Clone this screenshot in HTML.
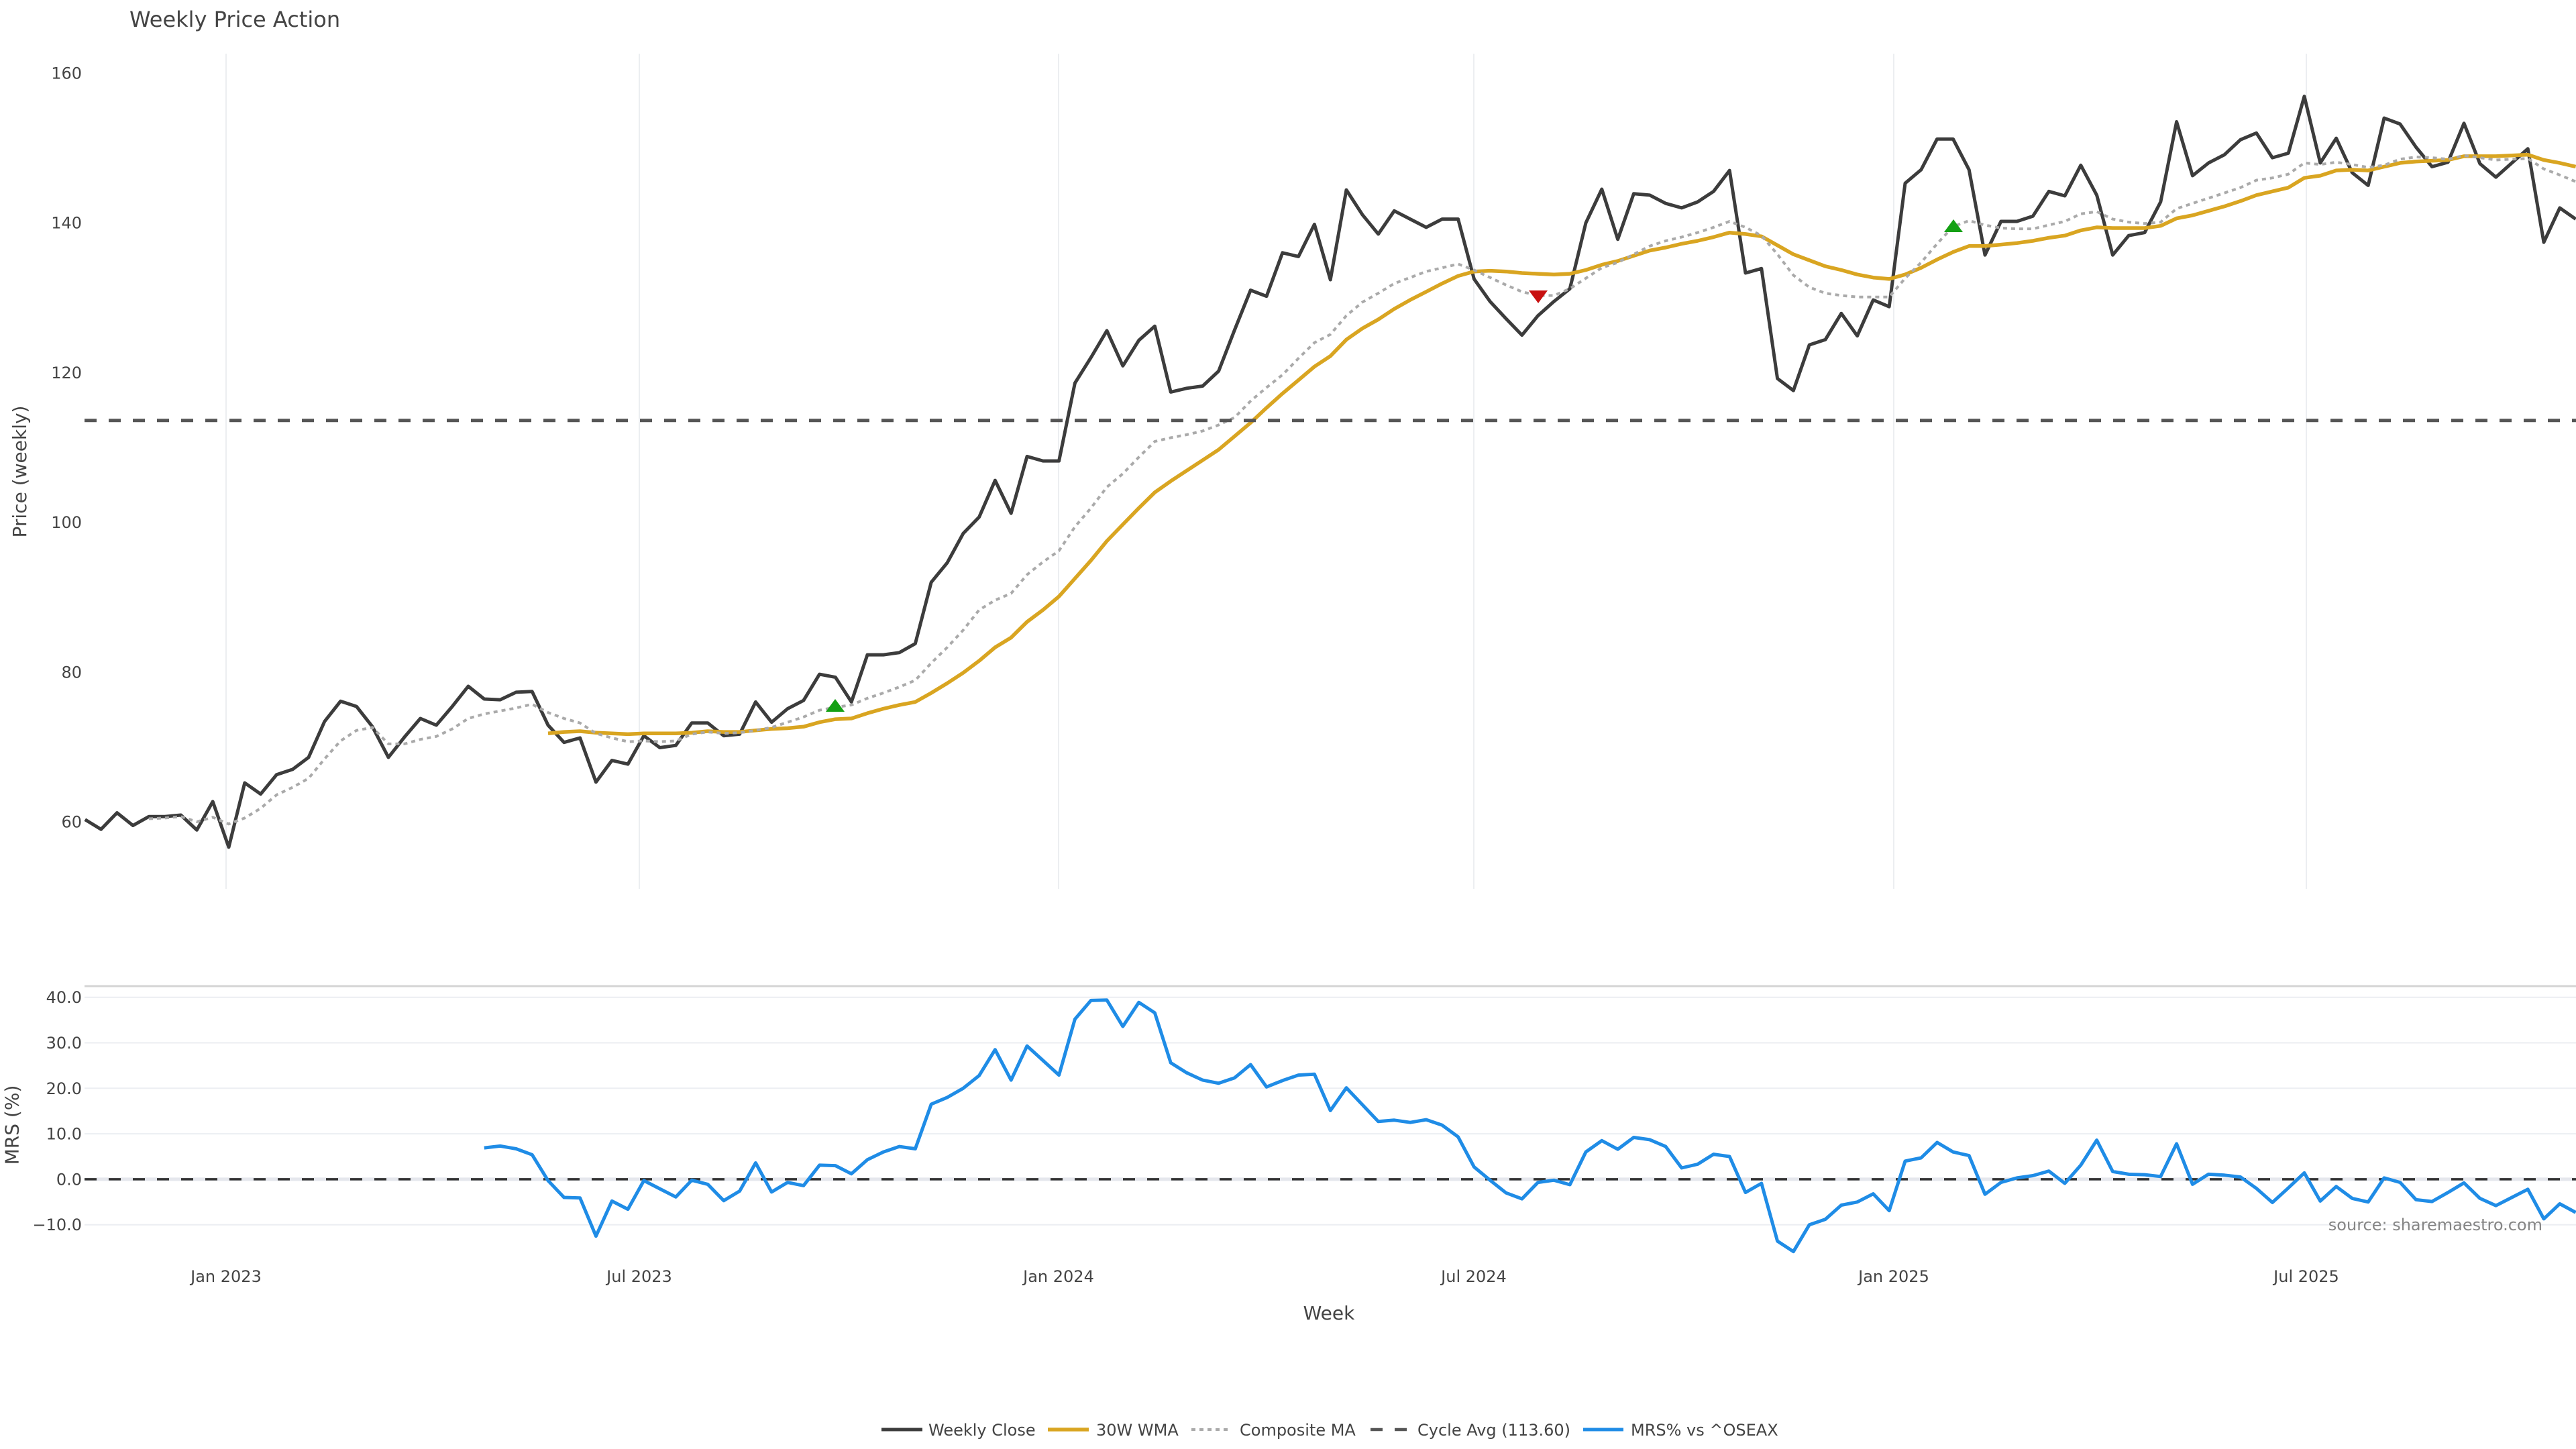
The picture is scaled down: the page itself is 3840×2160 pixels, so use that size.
<!DOCTYPE html>
<html>
<head>
<meta charset="utf-8">
<style>
html,body{margin:0;padding:0;background:#fff;}
svg{display:block;}
text{font-family:"DejaVu Sans","Liberation Sans",sans-serif;fill:#444;}
</style>
</head>
<body>
<svg id="chart" width="3840" height="2160" viewBox="0 0 3840 2160" xmlns="http://www.w3.org/2000/svg">
  <rect x="0" y="0" width="3840" height="2160" fill="#ffffff"/>

  <!-- Title -->
  <text x="193" y="40" font-size="32">Weekly Price Action</text>

  <!-- Price panel vertical gridlines -->
  <g stroke="#eceef1" stroke-width="2">
    <line x1="337" y1="80" x2="337" y2="1325"/>
    <line x1="953" y1="80" x2="953" y2="1325"/>
    <line x1="1578" y1="80" x2="1578" y2="1325"/>
    <line x1="2197" y1="80" x2="2197" y2="1325"/>
    <line x1="2823" y1="80" x2="2823" y2="1325"/>
    <line x1="3438" y1="80" x2="3438" y2="1325"/>
  </g>

  <!-- Price y ticks -->
  <g font-size="24" text-anchor="end">
    <text x="122" y="117.5">160</text>
    <text x="122" y="340.7">140</text>
    <text x="122" y="563.9">120</text>
    <text x="122" y="787.1">100</text>
    <text x="122" y="1010.3">80</text>
    <text x="122" y="1233.5">60</text>
  </g>
  <text transform="translate(39,703) rotate(-90)" font-size="28" text-anchor="middle">Price (weekly)</text>

  <!-- Price series -->
  <path id="pClose" fill="none" stroke="#3c3c3c" stroke-width="5" stroke-linejoin="round"/>
  <path id="pWma" fill="none" stroke="#d9a521" stroke-width="5.5" stroke-linejoin="round"/>
  <path id="pComp" fill="none" stroke="#aaaaaa" stroke-width="4" stroke-dasharray="6,6"/>
  <line x1="126" y1="626.8" x2="3840" y2="626.8" stroke="#555555" stroke-width="5" stroke-dasharray="18,18"/>

  <!-- Markers -->
  <polygon points="1245,1042 1231,1061 1259,1061" fill="#14a014"/>
  <polygon points="2912,327 2898,346 2926,346" fill="#14a014"/>
  <polygon points="2293,452 2279,433 2307,433" fill="#c81010"/>

  <!-- MRS panel -->
  <line x1="126" y1="1470" x2="3840" y2="1470" stroke="#d4d4d4" stroke-width="3"/>
  <g stroke="#eceef2" stroke-width="2">
    <line x1="126" y1="1486.7" x2="3840" y2="1486.7"/>
    <line x1="126" y1="1554.5" x2="3840" y2="1554.5"/>
    <line x1="126" y1="1622.3" x2="3840" y2="1622.3"/>
    <line x1="126" y1="1690.1" x2="3840" y2="1690.1"/>
    <line x1="126" y1="1825.7" x2="3840" y2="1825.7"/>
  </g>
  <line x1="126" y1="1757.9" x2="3840" y2="1757.9" stroke="#e5e7ed" stroke-width="5"/>
  <g font-size="24" text-anchor="end">
    <text x="122" y="1495.2">40.0</text>
    <text x="122" y="1563">30.0</text>
    <text x="122" y="1630.8">20.0</text>
    <text x="122" y="1698.6">10.0</text>
    <text x="122" y="1766.4">0.0</text>
    <text x="122" y="1834.2">−10.0</text>
  </g>
  <text transform="translate(27.5,1677) rotate(-90)" font-size="28" text-anchor="middle">MRS (%)</text>
  <line x1="126" y1="1757.9" x2="3840" y2="1757.9" stroke="#333333" stroke-width="3.5" stroke-dasharray="18,18"/>
  <path id="pMrs" fill="none" stroke="#1f8ce6" stroke-width="5" stroke-linejoin="round"/>

  <text x="3790" y="1834" font-size="24" text-anchor="end" style="fill:#858585">source: sharemaestro.com</text>

  <!-- X ticks -->
  <g font-size="24" text-anchor="middle">
    <text x="337" y="1911">Jan 2023</text>
    <text x="953" y="1911">Jul 2023</text>
    <text x="1578" y="1911">Jan 2024</text>
    <text x="2197" y="1911">Jul 2024</text>
    <text x="2823" y="1911">Jan 2025</text>
    <text x="3438" y="1911">Jul 2025</text>
  </g>
  <text x="1981" y="1967" font-size="28" text-anchor="middle">Week</text>

  <!-- Legend -->
  <line x1="1314" y1="2131" x2="1375" y2="2131" stroke="#3c3c3c" stroke-width="5"/>
  <text x="1384" y="2140" font-size="24">Weekly Close</text>
  <line x1="1562" y1="2131" x2="1623" y2="2131" stroke="#d9a521" stroke-width="5.5"/>
  <text x="1634" y="2140" font-size="24">30W WMA</text>
  <line x1="1776" y1="2131" x2="1834" y2="2131" stroke="#aaaaaa" stroke-width="4" stroke-dasharray="6,6"/>
  <text x="1848" y="2140" font-size="24">Composite MA</text>
  <line x1="2043" y1="2131" x2="2098" y2="2131" stroke="#555555" stroke-width="4.5" stroke-dasharray="18,18"/>
  <text x="2113" y="2140" font-size="24">Cycle Avg (113.60)</text>
  <line x1="2360" y1="2131" x2="2420" y2="2131" stroke="#1f8ce6" stroke-width="5"/>
  <text x="2431" y="2140" font-size="24">MRS% vs ^OSEAX</text>
</svg>
<script>
(function(){
var close=[60.3,59.0,61.2,59.5,60.7,60.7,60.9,58.9,62.7,56.6,
65.2,63.7,66.3,67.0,68.6,73.4,76.1,75.4,72.7,68.6,
71.3,73.8,72.9,75.4,78.1,76.4,76.3,77.3,77.4,72.9,
70.6,71.2,65.3,68.2,67.7,71.5,69.9,70.2,73.2,73.2,
71.5,71.7,76.0,73.3,75.1,76.2,79.7,79.3,76.0,82.3,
82.3,82.6,83.8,92.0,94.6,98.5,100.7,105.6,101.2,108.8,
108.2,108.2,118.6,122.0,125.6,120.9,124.3,126.2,117.4,117.9,
118.2,120.2,125.7,131.0,130.2,136.0,135.5,139.8,132.4,144.4,
141.1,138.5,141.6,140.5,139.4,140.5,140.5,132.5,129.5,127.2,
125.0,127.6,129.5,131.2,140.0,144.5,137.8,143.9,143.7,142.6,
142.0,142.8,144.2,147.0,133.3,133.9,119.2,117.6,123.7,124.4,
127.9,124.9,129.7,128.8,145.3,147.1,151.2,151.2,147.1,135.7,
140.2,140.2,140.9,144.2,143.6,147.7,143.7,135.7,138.3,138.7,
142.8,153.5,146.3,148.0,149.1,151.1,152.0,148.7,149.3,156.9,
148.0,151.3,146.7,145.0,154.0,153.2,150.1,147.5,148.1,153.3,
147.9,146.1,148.0,149.9,137.4,142.0,140.5];
var comp=[60.4,60.5,60.7,60.0,60.6,59.7,
60.5,61.8,63.6,64.6,65.8,68.4,70.8,72.2,72.6,70.4,
70.4,71.0,71.4,72.4,73.8,74.4,74.8,75.2,75.7,74.6,
73.8,73.2,71.8,71.2,70.7,70.8,70.7,70.8,71.7,72.0,
71.8,71.9,72.2,72.6,73.3,74.0,74.9,75.3,75.6,76.5,
77.2,78.0,78.9,81.2,83.3,85.6,88.3,89.6,90.5,93.0,
94.7,96.2,99.4,101.9,104.7,106.5,108.7,110.8,111.3,111.7,
112.2,113.0,114.0,116.2,118.0,119.7,121.9,124.0,125.1,127.6,
129.4,130.6,131.9,132.7,133.5,134.0,134.5,133.7,132.7,131.7,
130.8,130.3,130.3,131.2,132.6,134.0,134.7,135.8,136.9,137.6,
138.1,138.7,139.4,140.2,139.4,138.3,135.8,133.0,131.4,130.6,
130.3,130.1,130.1,130.1,132.6,134.7,137.2,139.5,140.3,139.7,
139.3,139.2,139.2,139.7,140.2,141.2,141.5,140.5,140.1,139.9,
140.1,141.9,142.6,143.3,144.0,144.7,145.7,146.0,146.5,148.0,
147.8,148.1,147.8,147.4,147.7,148.5,148.8,148.7,148.5,149.0,
148.7,148.4,148.5,148.6,147.2,146.4,145.5];
var wma=[71.8,
72.0,72.1,71.9,71.8,71.7,71.8,71.8,71.8,71.9,72.1,
72.0,72.0,72.2,72.4,72.5,72.7,73.3,73.7,73.8,74.5,
75.1,75.6,76.0,77.2,78.5,79.9,81.5,83.3,84.6,86.7,
88.3,90.1,92.5,94.9,97.5,99.7,101.9,104.0,105.5,106.9,
108.3,109.7,111.5,113.3,115.3,117.2,119.0,120.8,122.2,124.4,
125.9,127.1,128.5,129.7,130.8,131.9,132.9,133.5,133.6,133.5,
133.3,133.2,133.1,133.2,133.7,134.4,134.9,135.6,136.3,136.7,
137.2,137.6,138.1,138.7,138.5,138.2,137.0,135.8,135.0,134.2,
133.7,133.1,132.7,132.5,133.1,134.0,135.1,136.1,136.9,136.9,
137.1,137.3,137.6,138.0,138.3,139.0,139.4,139.3,139.3,139.3,
139.6,140.6,141.0,141.6,142.2,142.9,143.7,144.2,144.7,146.0,
146.3,147.0,147.1,147.0,147.5,148.0,148.2,148.3,148.4,148.9,
148.9,148.9,149.0,149.1,148.4,148.0,147.5];
var mrs=[6.9,7.3,6.7,5.4,-0.3,
-4.0,-4.1,-12.5,-4.8,-6.6,-0.3,-2.1,-3.9,-0.2,-1.1,
-4.7,-2.6,3.6,-2.8,-0.7,-1.4,3.1,3.0,1.2,4.3,
6.0,7.2,6.7,16.5,18.0,20.0,22.8,28.5,21.8,29.3,
26.1,22.9,35.2,39.3,39.4,33.6,38.9,36.6,25.6,23.4,
21.8,21.1,22.3,25.2,20.3,21.7,22.9,23.1,15.1,20.1,
16.4,12.7,13.0,12.5,13.1,11.9,9.3,2.7,-0.2,-3.0,
-4.3,-0.7,-0.2,-1.2,6.0,8.5,6.6,9.2,8.7,7.2,
2.5,3.3,5.5,5.0,-2.9,-0.9,-13.6,-15.9,-10.0,-8.8,
-5.7,-5.0,-3.2,-6.9,4.0,4.7,8.1,6.0,5.2,-3.3,
-0.7,0.3,0.8,1.8,-0.9,3.1,8.6,1.7,1.1,1.0,
0.6,7.8,-1.1,1.1,0.9,0.5,-2.0,-5.1,-1.9,1.4,
-4.8,-1.6,-4.2,-5.0,0.3,-0.7,-4.5,-4.9,-2.9,-0.8,
-4.2,-5.8,-4.0,-2.2,-8.7,-5.4,-7.3];
function X(i){return 126.8+(i-1)*23.8;}
function YP(p){return 1225-(p-60)*11.16;}
function YM(m){return 1757.9-m*6.78;}
function d(arr,s,f){var o=[];for(var k=0;k<arr.length;k++){o.push((k?'L':'M')+X(s+k).toFixed(1)+' '+f(arr[k]).toFixed(1));}return o.join('');}
document.getElementById('pClose').setAttribute('d',d(close,1,YP));
document.getElementById('pWma').setAttribute('d',d(wma,30,YP));
document.getElementById('pComp').setAttribute('d',d(comp,5,YP));
document.getElementById('pMrs').setAttribute('d',d(mrs,26,YM));
})();
</script>
</body>
</html>
